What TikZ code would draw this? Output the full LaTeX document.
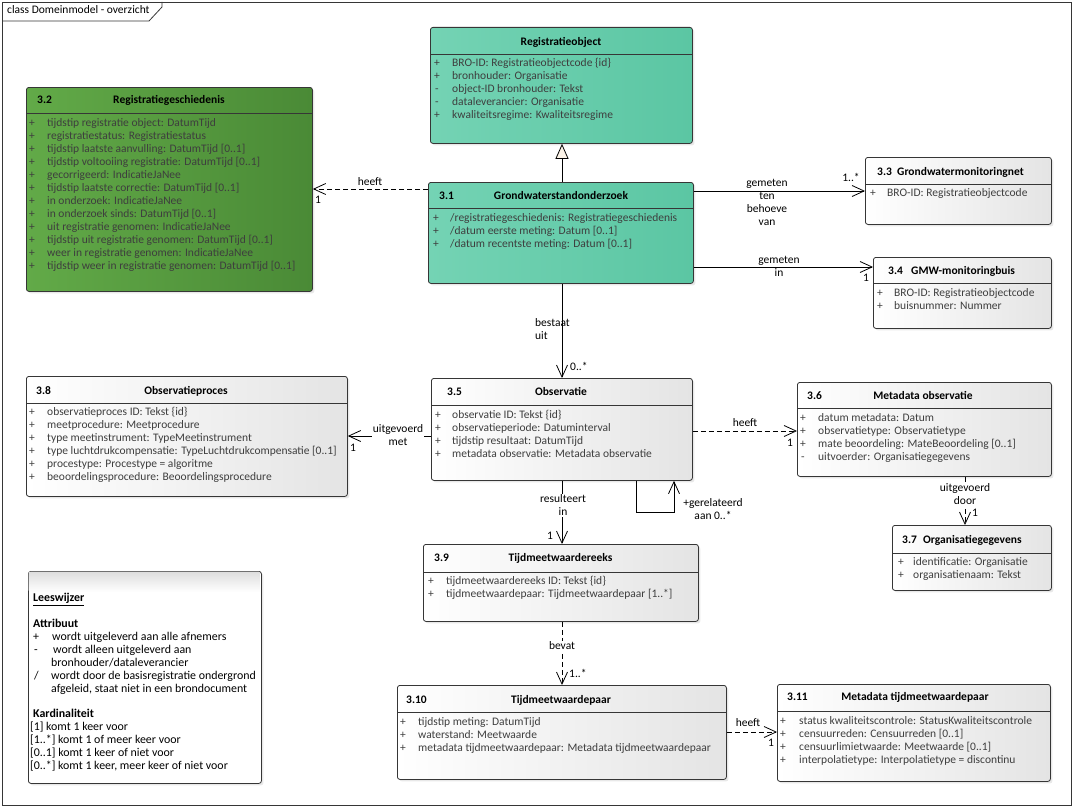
\documentclass[tikz,border=0pt]{standalone}
\usepackage{fontspec}
\setmainfont{Carlito}
\usetikzlibrary{arrows.meta,shadows}
\definecolor{bord}{HTML}{363636}
\definecolor{attr}{HTML}{3E3E3E}
\definecolor{greyR}{HTML}{E4E4E4}
\definecolor{tealL}{HTML}{74D3B4}
\definecolor{tealR}{HTML}{5BC6A3}
\definecolor{greenL}{HTML}{62AA48}
\definecolor{greenR}{HTML}{4A8A36}
\definecolor{cream}{HTML}{FCF3E8}
\newcommand\fsz{\fontsize{11.5}{13}\selectfont}
\tikzset{
  box/.style={draw=bord, line width=0.8pt, rounded corners=2.5pt, anchor=north west, inner sep=0pt,
    drop shadow={shadow xshift=2pt, shadow yshift=-2pt, opacity=0.18}},
  greybox/.style={box, left color=white, right color=greyR},
  tealbox/.style={box, left color=tealL, right color=tealR},
  greenbox/.style={box, left color=greenL, right color=greenR},
  notebox/.style={box, fill=white},
  txt/.style={inner sep=0pt, anchor=mid west, font=\fsz, text=attr},
  sgn/.style={inner sep=0pt, anchor=mid, font=\fsz, text=attr},
  ttl/.style={inner sep=0pt, anchor=mid, font=\bfseries\fsz, text=black},
  num/.style={inner sep=0pt, anchor=mid west, font=\bfseries\fsz, text=black},
  lbl/.style={inner sep=1pt, font=\fsz, align=center, text=black},
  wlbl/.style={lbl, fill=white},
  note/.style={inner sep=0pt, anchor=mid west, font=\fontsize{11.9}{13}\selectfont, text=black},
  conn/.style={draw=black, line width=0.8pt},
  dep/.style={conn, dash pattern=on 5pt off 3pt},
  barb/.style={-{Straight Barb[length=12pt,width=11pt]}},
  gen/.style={conn, -{Triangle[open, length=15pt, width=13pt, fill=cream]}}
}
\newcommand\clsbox[7]{%
  \node[#2, minimum width={(#5-#3)*1pt}, minimum height={(#6-#4)*1pt}] (#1) at (#3,#4) {};
  \draw[bord, line width=0.8pt] (#3,#7) -- (#5,#7);
}
\newcommand\attrs[5]{%
  \foreach \sg/\tx [count=\i from 0] in {#5} {
    \node[sgn] (#1s\i) at (#2, #4+13*\i) {\sg};
    \node[txt] (#1t\i) at (#3, #4+13*\i) {\tx};
  }%
}
\begin{document}
\begin{tikzpicture}[x=1pt,y=-1pt]
\useasboundingbox (0,0) rectangle (1076,808);
% frame
\node[draw=bord, line width=0.8pt, minimum width=1069pt, minimum height=803pt, anchor=north west, inner sep=0pt] (frame) at (2,2) {};
\draw[bord, line width=0.8pt] (2,21) -- (149,21) -- (162,7) -- (162,2);
\node[note, font=\fsz] (ftitle) at (7,11) {class Domeinmodel - overzicht};

% boxes
\clsbox{n30}{tealbox}{430}{27}{692}{143}{54}
\clsbox{n31}{tealbox}{428}{182}{693}{283}{208}
\clsbox{n32}{greenbox}{26}{87}{312}{291}{113}
\clsbox{n33}{greybox}{865}{157}{1051}{224}{184}
\clsbox{n34}{greybox}{873}{257}{1051}{328}{283}
\clsbox{n38}{greybox}{26}{376}{347}{496}{403}
\clsbox{n35}{greybox}{431}{378}{692}{480}{405}
\clsbox{n36}{greybox}{797}{382}{1051}{476}{408}
\clsbox{n37}{greybox}{892}{525}{1051}{590}{553}
\clsbox{n39}{greybox}{423}{544}{698}{621}{572}
\clsbox{n310}{greybox}{397}{685}{726}{779}{712}
\clsbox{n311}{greybox}{777}{684}{1050}{781}{711}
\node[notebox, minimum width=233pt, minimum height=212pt] (nlees) at (28,571) {};
\shade[top color=black!13, bottom color=white, rounded corners=2pt] (28.6,571.6) rectangle (260.4,592);

% titles
\node[ttl] (h30) at (561,43) {Registratieobject};
\node[num] (k31) at (439,197) {3.1};
\node[ttl] (h31) at (561,197) {Grondwaterstandonderzoek};
\node[num] (k32) at (37,101) {3.2};
\node[ttl] (h32) at (169,101) {Registratiegeschiedenis};
\node[num] (k33) at (877,173) {3.3};
\node[num] (h33) at (897,173) {Grondwatermonitoringnet};
\node[num] (k34) at (888,272) {3.4};
\node[num] (h34) at (911,272) {GMW-monitoringbuis};
\node[num] (k38) at (36,392) {3.8};
\node[ttl] (h38) at (186,392) {Observatieproces};
\node[num] (k35) at (447,393) {3.5};
\node[ttl] (h35) at (561,393) {Observatie};
\node[num] (k36) at (807,397) {3.6};
\node[ttl] (h36) at (923,397) {Metadata observatie};
\node[num] (k37) at (902,541) {3.7};
\node[num] (h37) at (923,541) {Organisatiegegevens};
\node[num] (k39) at (434,559) {3.9};
\node[ttl] (h39) at (560.5,559) {Tijdmeetwaardereeks};
\node[num] (k310) at (406,701) {3.10};
\node[ttl] (h310) at (561,701) {Tijdmeetwaardepaar};
\node[num] (k311) at (787,698) {3.11};
\node[ttl] (h311) at (915,698) {Metadata tijdmeetwaardepaar};

% attributes
\attrs{a30}{437}{452}{64}{{+}/{BRO-ID: Registratieobjectcode \{id\}},{+}/{bronhouder: Organisatie},{-}/{object-ID bronhouder: Tekst},{-}/{dataleverancier: Organisatie},{+}/{kwaliteitsregime: Kwaliteitsregime}}
\attrs{a31}{436}{450}{219}{{+}/{/registratiegeschiedenis: Registratiegeschiedenis},{+}/{/datum eerste meting: Datum [0..1]},{+}/{/datum recentste meting: Datum [0..1]}}
\attrs{a32}{32}{47}{124}{{+}/{tijdstip registratie object: DatumTijd},{+}/{registratiestatus: Registratiestatus},{+}/{tijdstip laatste aanvulling: DatumTijd [0..1]},{+}/{tijdstip voltooiing registratie: DatumTijd [0..1]},{+}/{gecorrigeerd: IndicatieJaNee},{+}/{tijdstip laatste correctie: DatumTijd [0..1]},{+}/{in onderzoek: IndicatieJaNee},{+}/{in onderzoek sinds: DatumTijd [0..1]},{+}/{uit registratie genomen: IndicatieJaNee},{+}/{tijdstip uit registratie genomen: DatumTijd [0..1]},{+}/{weer in registratie genomen: IndicatieJaNee},{+}/{tijdstip weer in registratie genomen: DatumTijd [0..1]}}
\attrs{a33}{873}{887}{194}{{+}/{BRO-ID: Registratieobjectcode}}
\attrs{a34}{880}{894}{294}{{+}/{BRO-ID: Registratieobjectcode},{+}/{buisnummer: Nummer}}
\attrs{a38}{32}{47}{413}{{+}/{observatieproces ID: Tekst \{id\}},{+}/{meetprocedure: Meetprocedure},{+}/{type meetinstrument: TypeMeetinstrument},{+}/{type luchtdrukcompensatie: TypeLuchtdrukcompensatie [0..1]},{+}/{procestype: Procestype = algoritme},{+}/{beoordelingsprocedure: Beoordelingsprocedure}}
\attrs{a35}{438}{452}{416}{{+}/{observatie ID: Tekst \{id\}},{+}/{observatieperiode: Datuminterval},{+}/{tijdstip resultaat: DatumTijd},{+}/{metadata observatie: Metadata observatie}}
\attrs{a36}{803}{818}{419}{{+}/{datum metadata: Datum},{+}/{observatietype: Observatietype},{+}/{mate beoordeling: MateBeoordeling [0..1]},{-}/{uitvoerder: Organisatiegegevens}}
\attrs{a37}{901}{913}{563}{{+}/{identificatie: Organisatie},{+}/{organisatienaam: Tekst}}
\attrs{a39}{431}{446}{582}{{+}/{tijdmeetwaardereeks ID: Tekst \{id\}},{+}/{tijdmeetwaardepaar: Tijdmeetwaardepaar [1..*]}}
\attrs{a310}{403}{418}{723}{{+}/{tijdstip meting: DatumTijd},{+}/{waterstand: Meetwaarde},{+}/{metadata tijdmeetwaardepaar: Metadata tijdmeetwaardepaar}}
\attrs{a311}{783}{799}{722}{{+}/{status kwaliteitscontrole: StatusKwaliteitscontrole},{+}/{censuurreden: Censuurreden [0..1]},{+}/{censuurlimietwaarde: Meetwaarde [0..1]},{+}/{interpolatietype: Interpolatietype = discontinu}}

% Leeswijzer
\node[note] (l1) at (33,599) {\underline{\textbf{Leeswijzer}}};
\node[note] (l2) at (33,625) {\textbf{Attribuut}};
\node[note] (l3s) at (33,638) {+};
\node[note] (l3) at (52,638) {wordt uitgeleverd aan alle afnemers};
\node[note] (l4s) at (34,651) {-};
\node[note] (l4) at (53,651) {wordt alleen uitgeleverd aan};
\node[note] (l5) at (51,664) {bronhouder/dataleverancier};
\node[note] (l6s) at (34,677) {/};
\node[note] (l6) at (51,677) {wordt door de basisregistratie ondergrond};
\node[note] (l7) at (51,690) {afgeleid, staat niet in een brondocument};
\node[note] (l8) at (33,715) {\textbf{Kardinaliteit}};
\node[note] (l9s) at (30,728) {[1]};
\node[note] (l9) at (46,728) {komt 1 keer voor};
\node[note] (l10) at (30,741) {[1..*] komt 1 of meer keer voor};
\node[note] (l11) at (30,754) {[0..1] komt 1 keer of niet voor};
\node[note] (l12) at (30,767) {[0..*] komt 1 keer, meer keer of niet voor};

% connectors
\draw[gen] (n31.north -| 562,0) -- (n30.south -| 562,0);
\draw[dep,barb] (n31.west |- 0,189) -- (n32.east |- 0,189);
\draw[conn,barb] (n31.east |- 0,191) -- (n33.west |- 0,191);
\draw[conn,barb] (n31.east |- 0,267) -- (n34.west |- 0,267);
\draw[conn,barb] (n31.south -| 562,0) -- (n35.north -| 562,0);
\draw[conn,barb] (n35.west |- 0,436) -- (n38.east |- 0,436);
\draw[dep,barb] (n35.east |- 0,431) -- (n36.west |- 0,431);
\draw[dep,barb] (n36.south -| 965,0) -- (n37.north -| 965,0);
\draw[conn,barb] (n35.south -| 636,0) -- (636,512) -- (674,512) -- (n35.south -| 674,0);
\draw[conn,barb] (n35.south -| 562,0) -- (n39.north -| 562,0);
\draw[dep,barb] (n39.south -| 562,0) -- (n310.north -| 562,0);
\draw[dep,barb] (n310.east |- 0,732) -- (n311.west |- 0,732);

% connector labels
\node[lbl] (c1) at (370,182) {heeft};
\node[lbl] (c1m) at (318,200) {1};
\node[lbl] (c2) at (767,202.5) {gemeten\\ten\\behoeve\\van};
\node[lbl] (c2m) at (851,177) {1..*};
\node[lbl] (c3) at (779,266.5) {gemeten\\in};
\node[lbl] (c3m) at (866,278) {1};
\node[lbl, anchor=west, align=left, inner sep=0pt] (c4) at (535,329.5) {bestaat\\uit};
\node[lbl, anchor=west, inner sep=0pt] (c4m) at (570,366) {0..*};
\node[wlbl] (c5) at (398,435.5) {uitgevoerd\\met};
\node[lbl] (c5m) at (353,448) {1};
\node[lbl] (c6) at (745,423) {heeft};
\node[lbl] (c6m) at (790,443) {1};
\node[wlbl] (c7) at (965,494.5) {uitgevoerd\\door};
\node[lbl] (c7m) at (975,513) {1};
\node[lbl] (c8) at (713,509.5) {+gerelateerd\\aan 0..*};
\node[wlbl] (c9) at (563,505.5) {resulteert\\in};
\node[lbl] (c9m) at (550,536) {1};
\node[wlbl] (c10) at (562,646) {bevat};
\node[lbl, anchor=west, inner sep=0pt] (c10m) at (569,673) {1..*};
\node[lbl] (c11) at (748,723) {heeft};
\node[lbl] (c11m) at (771,743) {1};
\end{tikzpicture}
\end{document}
